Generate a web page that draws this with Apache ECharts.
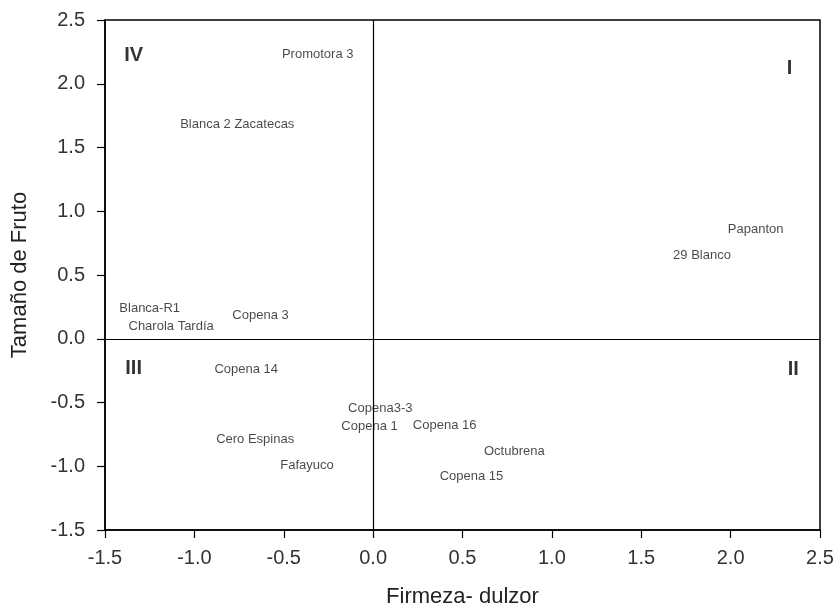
<!DOCTYPE html>
<html>
<head>
<meta charset="utf-8">
<script src="https://cdn.jsdelivr.net/npm/echarts@6/dist/echarts.min.js"></script>
<style>
  html, body { margin: 0; padding: 0; background: #fff; }
  #chart { width: 836px; height: 609px; }
</style>
</head>
<body>
<div id="chart"></div>
<script>
// Cultivars placed on the two principal axes
const cultivars = [
  'Promotora 3', 'Blanca 2 Zacatecas', 'Papanton', '29 Blanco',
  'Blanca-R1', 'Charola Tardía', 'Copena 3', 'Copena 14',
  'Copena3-3', 'Copena 1', 'Copena 16', 'Cero Espinas',
  'Fafayuco', 'Octubrena', 'Copena 15'
];
const firmeza = [
  -0.31, -0.76, 2.14, 1.84,
  -1.25, -1.13, -0.63, -0.71,
  0.04, -0.02, 0.40, -0.66,
  -0.37, 0.79, 0.55
];
const tamano = [
  2.23, 1.68, 0.86, 0.65,
  0.24, 0.10, 0.18, -0.24,
  -0.55, -0.69, -0.68, -0.79,
  -0.99, -0.88, -1.08
];

// Quadrant labels
const quadrants = ['IV', 'I', 'III', 'II'];
const quadX = [-1.34, 2.33, -1.34, 2.35];
const quadY = [2.22, 2.12, -0.23, -0.24];

const xTicks = { min: -1.5, max: 2.5, interval: 0.5 };
const yTicks = { min: -1.5, max: 2.5, interval: 0.5 };

const FONT = 'Liberation Sans, Arial, sans-serif';
const chart = echarts.init(document.getElementById('chart'));

function axisCommon(range, name, nameGap, labelMargin) {
  return {
    type: 'value',
    min: range.min, max: range.max, interval: range.interval,
    name: name,
    nameLocation: 'middle',
    nameGap: nameGap,
    nameTextStyle: { fontFamily: FONT, fontSize: 22, color: '#222' },
    axisLine: { onZero: false, lineStyle: { color: '#000', width: 1.5 } },
    axisTick: { show: true, inside: false, length: 8, lineStyle: { color: '#000', width: 1.2 } },
    axisLabel: {
      fontFamily: FONT, fontSize: 20, color: '#333', margin: labelMargin,
      formatter: v => v.toFixed(1)
    },
    splitLine: { show: false }
  };
}

chart.setOption({
  animation: false,
  backgroundColor: '#fff',
  grid: {
    left: 105, right: 16, top: 20, bottom: 79,
    outerBoundsMode: 'none', containLabel: false,
    show: true, borderColor: '#000', borderWidth: 1.5
  },
  xAxis: axisCommon(xTicks, 'Firmeza- dulzor', 56, 18),
  yAxis: axisCommon(yTicks, 'Tamaño de Fruto', 74, 20),
  series: [
    {
      type: 'scatter',
      symbolSize: 0,
      data: cultivars.map((n, i) => ({ name: n, value: [firmeza[i], tamano[i]] })),
      label: {
        show: true,
        position: 'inside',
        formatter: p => p.name,
        fontFamily: FONT,
        fontSize: 13,
        color: '#1a1a1a'
      },
      markLine: {
        silent: true,
        symbol: 'none',
        label: { show: false },
        lineStyle: { color: '#000', width: 1.2, type: 'solid' },
        data: [{ xAxis: 0 }, { yAxis: 0 }]
      }
    },
    {
      type: 'scatter',
      symbolSize: 0,
      data: quadrants.map((n, i) => ({ name: n, value: [quadX[i], quadY[i]] })),
      label: {
        show: true,
        position: 'inside',
        formatter: p => p.name,
        fontFamily: FONT,
        fontSize: 20,
        fontWeight: 'bold',
        color: '#000'
      }
    }
  ]
});
</script>
</body>
</html>
